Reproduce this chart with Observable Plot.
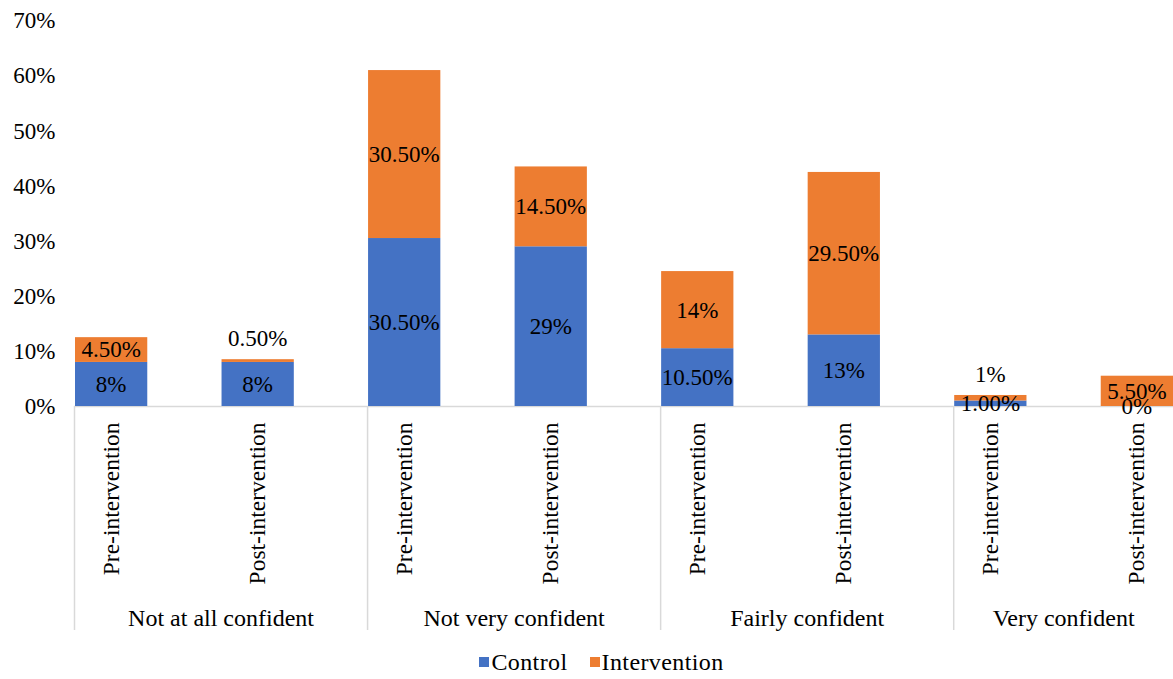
<!DOCTYPE html>
<html>
<head>
<meta charset="utf-8">
<script src="https://cdn.jsdelivr.net/npm/d3@7"></script>
<script src="https://cdn.jsdelivr.net/npm/@observablehq/plot@0.6"></script>
<style>
  html, body { margin: 0; padding: 0; background: #fff; overflow: hidden; }
  svg, svg text, #legend { font-family: 'Liberation Serif', 'Times New Roman', serif !important; }
  #legend { display: flex; justify-content: center; align-items: center; gap: 22px;
            font-size: 24px; letter-spacing: 0.4px; height: 34px; padding-left: 30px; color: #000; }
  .sw { display: inline-block; width: 10px; height: 10px; margin-right: 2px; }
  .item { display: flex; align-items: center; }
</style>
</head>
<body>
<div id="chart"></div>
<div id="legend"></div>
<script>
// ---- data ----
const groups = ["Not at all confident", "Not very confident", "Fairly confident", "Very confident"];
const phases = ["Pre-intervention", "Post-intervention"];
const seriesNames = ["Control", "Intervention"];
const control = [8, 8, 30.5, 29, 10.5, 13, 1, 0];
const intervention = [4.5, 0.5, 30.5, 14.5, 14, 29.5, 1, 5.5];
const controlLabels = ["8%", "8%", "30.50%", "29%", "10.50%", "13%", "1.00%", "0%"];
const interventionLabels = ["4.50%", "0.50%", "30.50%", "14.50%", "14%", "29.50%", "1%", "5.50%"];
const yTicks = [0, 10, 20, 30, 40, 50, 60, 70];
const colors = ["#4472C4", "#ED7D31"];

// ---- derived table ----
const rows = control.map((c, i) => ({
  i,
  group: groups[Math.floor(i / phases.length)],
  phase: phases[i % phases.length],
  c,
  v: intervention[i],
  cl: controlLabels[i],
  vl: interventionLabels[i]
}));
const nSlots = groups.length * phases.length;
const visibleEnd = nSlots - 0.5;            // the chart is cut through the last slot
const bounds = d3.range(0, nSlots + 1, phases.length).filter(b => b <= visibleEnd);
const groupRows = groups.map((g, k) => {
  const a = k * phases.length, b = Math.min((k + 1) * phases.length, visibleEnd);
  return {g, x: (a + b) / 2};
});

const plot = Plot.plot({
  width: 1173,
  height: 645,
  marginLeft: 74,
  marginRight: 0,
  marginTop: 20,
  marginBottom: 15,
  style: "font-family: 'Liberation Serif', 'Times New Roman', serif; font-size: 23px; color: #000; background: #fff; overflow: hidden;",
  x: {type: "linear", domain: [0, visibleEnd], range: [74, 1173], axis: null},
  y: {domain: [0, 70], range: [406, 20.5], axis: null},
  marks: [
    Plot.axisY(yTicks, {tickSize: 0, tickPadding: 19, tickFormat: d => d + "%", label: null, fill: "#000", fontSize: 23}),
    Plot.ruleX(bounds, {x: d => d, y1: 0, y2: 0, insetBottom: -224, stroke: "#d9d9d9", strokeWidth: 1.5}),
    Plot.ruleY([0], {stroke: "#d9d9d9", strokeWidth: 1.5}),
    Plot.rectY(rows, {x1: d => d.i, x2: d => d.i + 0.5, y1: 0, y2: d => d.c, fill: colors[0], insetLeft: 1}),
    Plot.rectY(rows, {x1: d => d.i, x2: d => d.i + 0.5, y1: d => d.c, y2: d => d.c + d.v, fill: colors[1], insetLeft: 1}),
    // control labels (centre of segment)
    Plot.text(rows, {x: d => d.i + 0.25, y: d => d.c / 2, text: "cl", fill: "#000", fontSize: 23}),
    // intervention labels: inside if segment is tall enough, else above the bar
    Plot.text(rows.filter(d => d.v >= 2), {x: d => d.i + 0.25, y: d => d.c + d.v / 2, text: "vl", fill: "#000", fontSize: 23}),
    Plot.text(rows.filter(d => d.v < 2), {x: d => d.i + 0.25, y: d => d.c + d.v, text: "vl", dy: -21, fill: "#000", fontSize: 23}),
    // category labels
    Plot.text(rows, {x: d => d.i + 0.25, y: 0, text: "phase", rotate: -90, textAnchor: "end", dy: 16, fill: "#000", fontSize: 23.5}),
    Plot.text(groupRows, {x: "x", text: "g", frameAnchor: "bottom", lineAnchor: "middle", dy: -12, fill: "#000", fontSize: 24})
  ]
});
document.getElementById("chart").appendChild(plot);

const legend = document.getElementById("legend");
seriesNames.forEach((s, k) => {
  const item = document.createElement("span");
  item.className = "item";
  item.innerHTML = `<span class="sw" style="background:${colors[k]}"></span>${s}`;
  legend.appendChild(item);
});
</script>
</body>
</html>
